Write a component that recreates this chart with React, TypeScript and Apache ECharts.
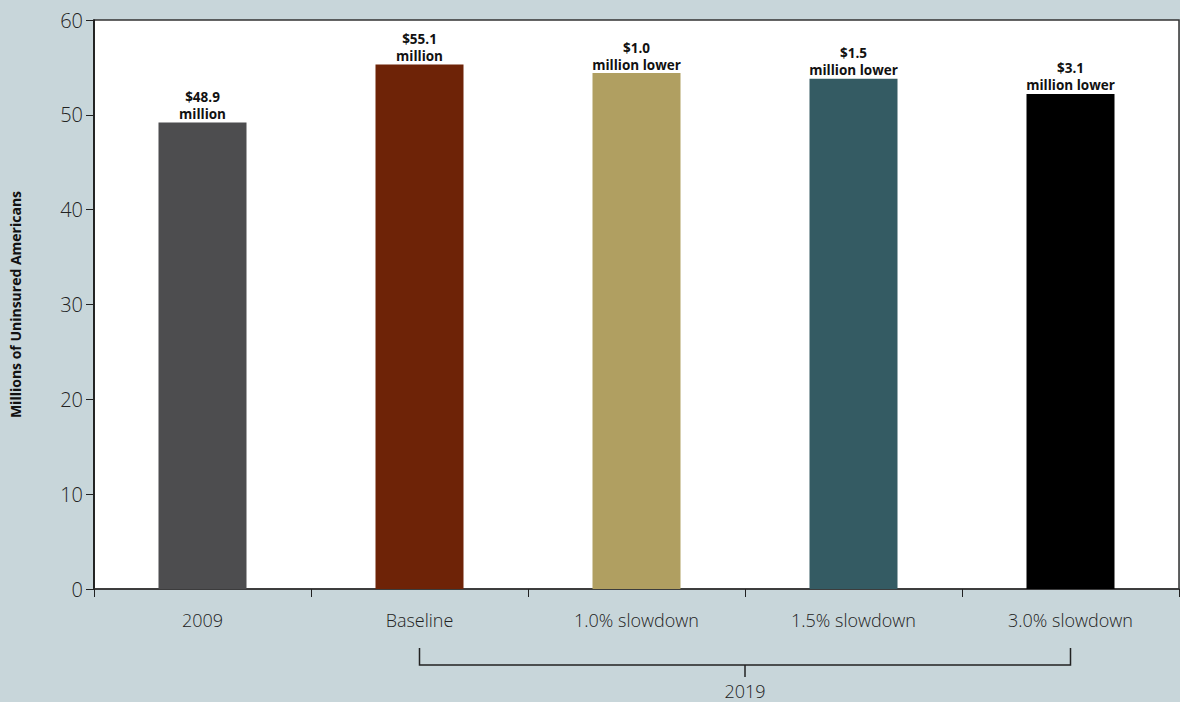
import React, { useEffect, useRef } from "react";
import * as echarts from "echarts";

const categories = ["2009", "Baseline", "1.0% slowdown", "1.5% slowdown", "3.0% slowdown"];
const values = [49.2, 55.3, 54.4, 53.8, 52.2];
const labelTop = ["$48.9", "$55.1", "$1.0", "$1.5", "$3.1"];
const labelBottom = ["million", "million", "million lower", "million lower", "million lower"];
const barColors = ["#4d4d4f", "#6e2307", "#b09f61", "#345b63", "#000000"];
const yTitle = "Millions of Uninsured Americans";
const groupLabel = "2019";

export default function App() {
  const ref = useRef<HTMLDivElement>(null);
  useEffect(() => {
    document.body.style.margin = "0";
    const chart = echarts.init(ref.current!, undefined, { renderer: "svg" });
    const font = "'Open Sans', 'Noto Sans', sans-serif";
    const lbl = { fontSize: 13.5, fontWeight: "bold", fontFamily: font, color: "#111", lineHeight: 17, height: 17 };
    chart.setOption({
      animation: false,
      backgroundColor: "#c8d6da",
      grid: {
        left: 93,
        right: 1,
        top: 20,
        bottom: 113,
        show: true,
        backgroundColor: "#ffffff",
        borderColor: "#333333",
        borderWidth: 1.5,
      },
      xAxis: {
        type: "category",
        data: categories,
        axisLine: { lineStyle: { color: "#333333", width: 1.5 } },
        axisTick: { show: true, length: 8, lineStyle: { color: "#222" } },
        axisLabel: { color: "#222", fontSize: 18, fontFamily: font, fontWeight: 300, margin: 22 },
      },
      yAxis: {
        type: "value",
        min: 0,
        max: 60,
        interval: 10,
        name: yTitle,
        nameLocation: "middle",
        nameGap: 72,
        nameTextStyle: { color: "#111", fontSize: 14, fontWeight: "bold", fontFamily: font },
        axisLine: { show: true, lineStyle: { color: "#111", width: 1.5 } },
        axisTick: { show: true, length: 8, lineStyle: { color: "#222" } },
        axisLabel: { color: "#222", fontSize: 20, fontFamily: font, fontWeight: 300, margin: 11 },
        splitLine: { show: false },
      },
      series: [
        {
          type: "bar",
          barWidth: 88,
          data: values.map((v, i) => ({
            value: v,
            itemStyle: { color: barColors[i] },
            label: { formatter: `{a|${labelTop[i]}}\n{b|${labelBottom[i]}}` },
          })),
          label: {
            show: true,
            position: "top",
            distance: 0,
            color: "#111",
            fontSize: 13.5,
            fontWeight: "bold",
            fontFamily: font,
            rich: { a: lbl, b: lbl },
          },
        },
      ],
    });
    const x1 = chart.convertToPixel({ xAxisIndex: 0 }, categories[1]) as number;
    const x2 = chart.convertToPixel({ xAxisIndex: 0 }, categories[4]) as number;
    const xMid = ((chart.convertToPixel({ xAxisIndex: 0 }, categories[2]) as number) + (chart.convertToPixel({ xAxisIndex: 0 }, categories[3]) as number)) / 2;
    const yTop = 648;
    const yBar = 665;
    const ls = { stroke: "#222", lineWidth: 1.5 };
    chart.setOption({
      graphic: [
        { type: "polyline", shape: { points: [[x1, yTop], [x1, yBar], [x2, yBar], [x2, yTop]] }, style: { ...ls, fill: null } },
        { type: "line", shape: { x1: xMid, y1: yBar, x2: xMid, y2: yBar + 12 }, style: ls },
        {
          type: "text",
          x: xMid,
          y: 691,
          style: { text: groupLabel, fill: "#222", font: `300 18px ${font}`, align: "center", verticalAlign: "middle" },
        },
      ],
    });
    return () => chart.dispose();
  }, []);
  return <div ref={ref} style={{ width: 1180, height: 702 }} />;
}
